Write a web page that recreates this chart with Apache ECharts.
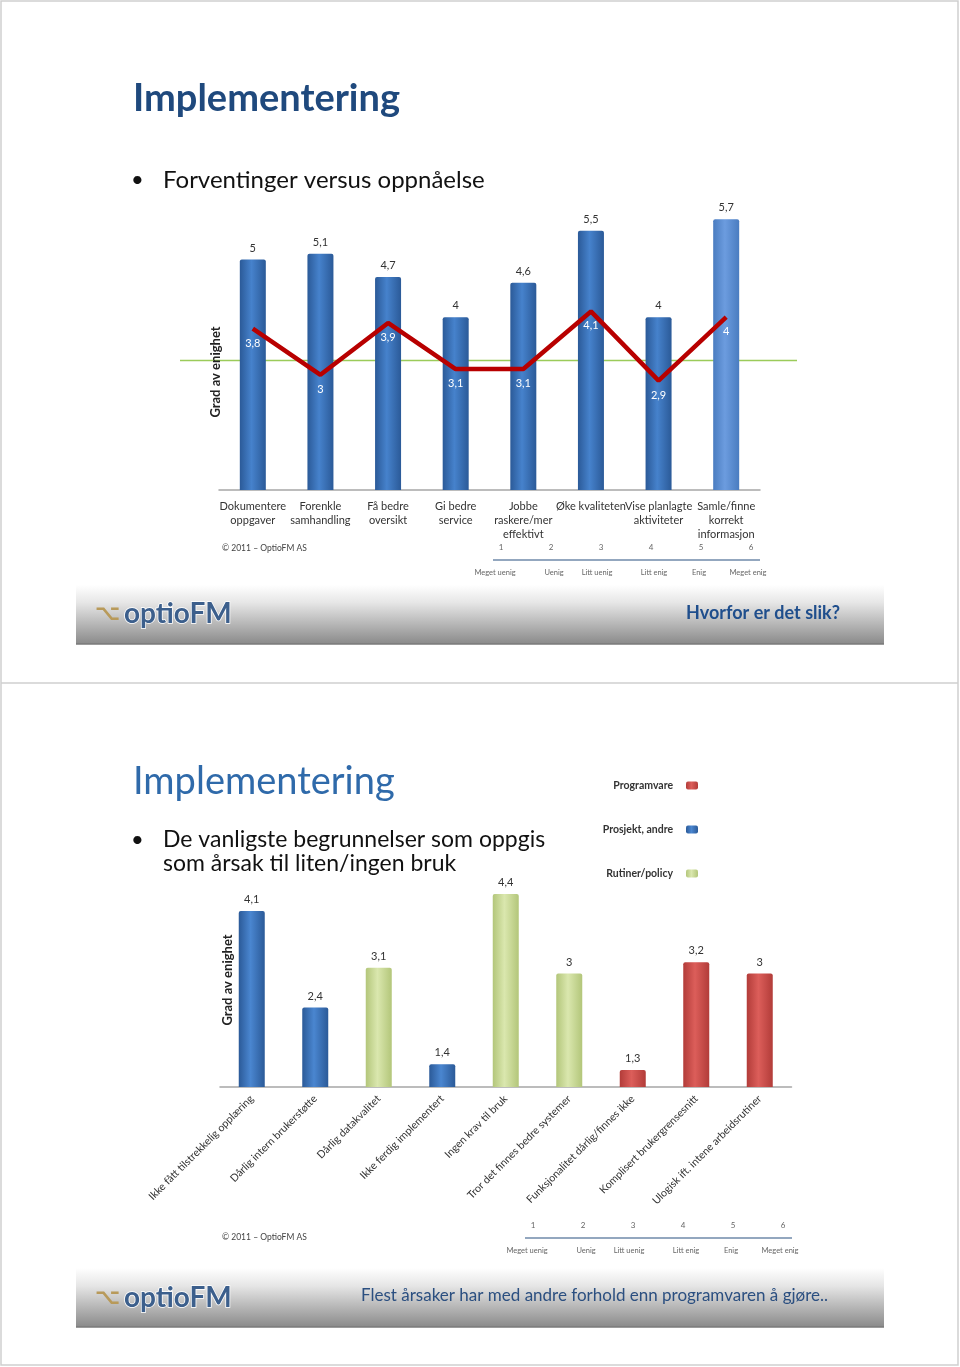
<!DOCTYPE html>
<html><head><meta charset="utf-8">
<script src="https://cdn.jsdelivr.net/npm/echarts@6/dist/echarts.min.js"></script>
<style>html,body{margin:0;padding:0;background:#fff}#c{width:960px;height:1367px}</style>
</head><body><div id="c"></div>
<script>
// ---------- DATA ----------
const cats1 = ['Dokumentere\noppgaver','Forenkle\nsamhandling','Få bedre\noversikt','Gi bedre\nservice','Jobbe\nraskere/mer\neffektivt','Øke kvaliteten','Vise planlagte\naktiviteter','Samle/finne\nkorrekt\ninformasjon'];
const expect1 = [5, 5.1, 4.7, 4, 4.6, 5.5, 4, 5.7];
const achieved1 = [3.8, 3, 3.9, 3.1, 3.1, 4.1, 2.9, 4];
const refLine1 = 3.25;
const cats2 = ['Ikke fått tilstrekkelig opplæring','Dårlig intern brukerstøtte','Dårlig datakvalitet','Ikke ferdig implementert','Ingen krav til bruk','Tror det finnes bedre systemer','Funksjonalitet dårlig/finnes ikke','Komplisert brukergrensesnitt','Ulogisk ift. intene arbeidsrutiner'];
const values2 = [4.1, 2.4, 3.1, 1.4, 4.4, 3, 1.3, 3.2, 3];
const groups2 = ['Prosjekt, andre','Prosjekt, andre','Rutiner/policy','Prosjekt, andre','Rutiner/policy','Rutiner/policy','Programvare','Programvare','Programvare'];
const legend2 = ['Programvare','Prosjekt, andre','Rutiner/policy'];
const scaleTicks = ['1','2','3','4','5','6'];
const scaleNames = ['Meget uenig','Uenig','Litt uenig','Litt enig','Enig','Meget enig'];

// ---------- STYLE ----------
const FONT = 'Lato, "Open Sans", sans-serif';
const fmt = v => String(v).replace('.', ',');
function cyl(edge, mid) {
  return new echarts.graphic.LinearGradient(0, 0, 1, 0, [
    {offset: 0, color: edge}, {offset: 0.45, color: mid}, {offset: 1, color: edge}
  ]);
}
const groupColors = {
  'Programvare': cyl('#b23c39', '#dc5e5a'),
  'Prosjekt, andre': cyl('#2b5a98', '#4a86d0'),
  'Rutiner/policy': cyl('#b3c67a', '#dae7ae')
};
const blue = cyl('#2b5a98', '#4682cc');
const lightBlue = cyl('#4a7cc0', '#6c9cdf');

function txt(text, x, y, o) {
  o = o || {};
  return {
    type: 'text', x: x, y: y, rotation: o.rotation || 0, z: 10,
    style: {
      text: text, fill: o.fill || '#222', textAlign: o.align || 'left', textVerticalAlign: 'middle',
      fontSize: o.size || 12, fontWeight: o.weight || 'normal', fontFamily: o.family || FONT
    }
  };
}
function band(y) {
  return [{
    type: 'rect', shape: {x: 76, y: y, width: 808, height: 59}, z: 1,
    style: {
      fill: new echarts.graphic.LinearGradient(0, 0, 0, 1, [
        {offset: 0, color: '#ffffff'}, {offset: 0.3, color: '#e6e6e6'}, {offset: 1, color: '#8a8a8a'}
      ])
    }
  }, {type: 'line', z: 2, shape: {x1: 76, y1: y + 59, x2: 884, y2: y + 59}, style: {stroke: '#7a7a7a', lineWidth: 1.5}}];
}
function logo(y) {
  return [
    txt('⌥', 95, y, {size: 22, fill: '#b89a5a', weight: 'bold', family: '"DejaVu Sans"'}),
    {type: 'text', x: 124, y: y, z: 10, style: {text: 'optioFM', textVerticalAlign: 'middle', fontSize: 28, fontWeight: 'bold',
      fontFamily: FONT, fill: '#3c5f8c', stroke: '#ffffff', lineWidth: 1.5}}
  ];
}
const nameOffsets = [-6, 53, 96, 153, 198, 247];
function scale(x0, y) {
  const g = [];
  scaleTicks.forEach((t, i) => g.push(txt(t, x0 + i * 50, y, {size: 8, fill: '#666', align: 'center'})));
  g.push({type: 'line', z: 10, shape: {x1: x0 - 8, y1: y + 13, x2: x0 + 259, y2: y + 13}, style: {stroke: '#93a7bf', lineWidth: 2}});
  scaleNames.forEach((t, i) => g.push(txt(t, x0 + nameOffsets[i], y + 26, {size: 7.5, fill: '#666', align: 'center'})));
  return g;
}

const graphics = [
  // page frame
  {type: 'rect', shape: {x: 1, y: 1, width: 957, height: 1364}, style: {fill: 'none', stroke: '#cfcfcf', lineWidth: 1.5}},
  {type: 'line', shape: {x1: 1, y1: 683, x2: 958, y2: 683}, style: {stroke: '#cfcfcf', lineWidth: 1.5}},
  // slide 1
  txt('Implementering', 133, 99, {size: 38, weight: 'bold', fill: '#1f497d'}),
  txt('•', 131, 180, {size: 22, fill: '#111'}),
  txt('Forventinger versus oppnåelse', 163, 180, {size: 24, fill: '#111'}),
  txt('Grad av enighet', 216, 372, {size: 13, weight: 'bold', fill: '#222', align: 'center', rotation: Math.PI / 2}),
  txt('© 2011 – OptioFM AS', 222, 548, {size: 8.5, fill: '#444'}),
  ...scale(501, 547),
  ...band(585),
  ...logo(614),
  txt('Hvorfor er det slik?', 840, 613, {size: 18, weight: 'bold', fill: '#1f4e8c', align: 'right'}),
  // slide 2
  txt('Implementering', 133, 782, {size: 38, fill: '#2f6aaa'}),
  txt('•', 131, 840, {size: 22, fill: '#111'}),
  txt('De vanligste begrunnelser som oppgis', 163, 840, {size: 23, fill: '#111'}),
  txt('som årsak til liten/ingen bruk', 163, 864, {size: 23, fill: '#111'}),
  txt('Grad av enighet', 228, 980, {size: 13, weight: 'bold', fill: '#222', align: 'center', rotation: Math.PI / 2}),
  txt('© 2011 – OptioFM AS', 222, 1237, {size: 8.5, fill: '#444'}),
  ...scale(533, 1225),
  ...band(1268),
  ...logo(1298),
  txt('Flest årsaker har med andre forhold enn programvaren å gjøre..', 361, 1296, {size: 17, fill: '#2b4f80'})
];

const chart = echarts.init(document.getElementById('c'), null, {renderer: 'canvas'});
const labelStyle = {color: '#333', fontSize: 11, fontFamily: FONT};

const series2 = legend2.map(g => ({
  name: g, type: 'bar', xAxisIndex: 1, yAxisIndex: 1, barWidth: 26, barGap: '-100%',
  itemStyle: {color: groupColors[g], borderRadius: [2, 2, 0, 0]},
  label: {show: true, position: 'top', distance: 6, formatter: p => fmt(p.value), ...labelStyle},
  data: values2.map((v, i) => groups2[i] === g ? v : null)
}));

chart.setOption({
  animation: false,
  backgroundColor: '#ffffff',
  grid: [
    {left: 219, width: 541, top: 202, height: 288},
    {left: 220, width: 571.5, top: 860, height: 227}
  ],
  legend: {
    data: legend2, orient: 'vertical', right: 257, top: 775, align: 'right',
    itemWidth: 12, itemHeight: 8, itemGap: 33,
    textStyle: {fontSize: 10.5, fontWeight: 'bold', color: '#333', fontFamily: FONT, padding: [0, 8, 0, 0]}
  },
  xAxis: [
    {type: 'category', gridIndex: 0, data: cats1,
      axisLine: {lineStyle: {color: '#a6a6a6', width: 1.5}}, axisTick: {show: false},
      axisLabel: {interval: 0, color: '#333', fontSize: 11, lineHeight: 14, margin: 9, fontFamily: FONT}},
    {type: 'category', gridIndex: 1, data: cats2,
      axisLine: {lineStyle: {color: '#a6a6a6', width: 1.5}}, axisTick: {show: false},
      axisLabel: {interval: 0, rotate: 45, color: '#333', fontSize: 10.6, margin: 10, fontFamily: FONT}}
  ],
  yAxis: [
    {type: 'value', gridIndex: 0, min: 1, max: 6, show: false},
    {type: 'value', gridIndex: 1, min: 1, max: 5, show: false}
  ],
  series: [
    {name: 'Forventning', type: 'bar', xAxisIndex: 0, yAxisIndex: 0, barWidth: 26,
      itemStyle: {color: blue, borderRadius: [2, 2, 0, 0]},
      label: {show: true, position: 'top', distance: 6, formatter: p => fmt(p.value), ...labelStyle},
      data: expect1.map((v, i) => i === expect1.length - 1 ? {value: v, itemStyle: {color: lightBlue}} : v)},
    {name: 'Oppnåelse', type: 'line', xAxisIndex: 0, yAxisIndex: 0, symbol: 'circle', symbolSize: 2, showSymbol: true, z: 5,
      itemStyle: {color: 'rgba(184,0,0,0)', borderWidth: 0},
      lineStyle: {color: '#b80000', width: 4.5},
      label: {show: true, position: 'bottom', distance: 8, formatter: p => fmt(p.value), color: '#ffffff', fontSize: 11, fontFamily: FONT},
      data: achieved1},
    ...series2
  ],
  graphic: graphics
});

// reference line of slide 1 (extends past the plot area)
const yRef = chart.convertToPixel({yAxisIndex: 0}, refLine1);
chart.setOption({graphic: graphics.concat([
  {type: 'line', z: 0, shape: {x1: 180, y1: yRef, x2: 797, y2: yRef}, style: {stroke: '#9bcb5a', lineWidth: 1.5}}
])});
</script></body></html>
